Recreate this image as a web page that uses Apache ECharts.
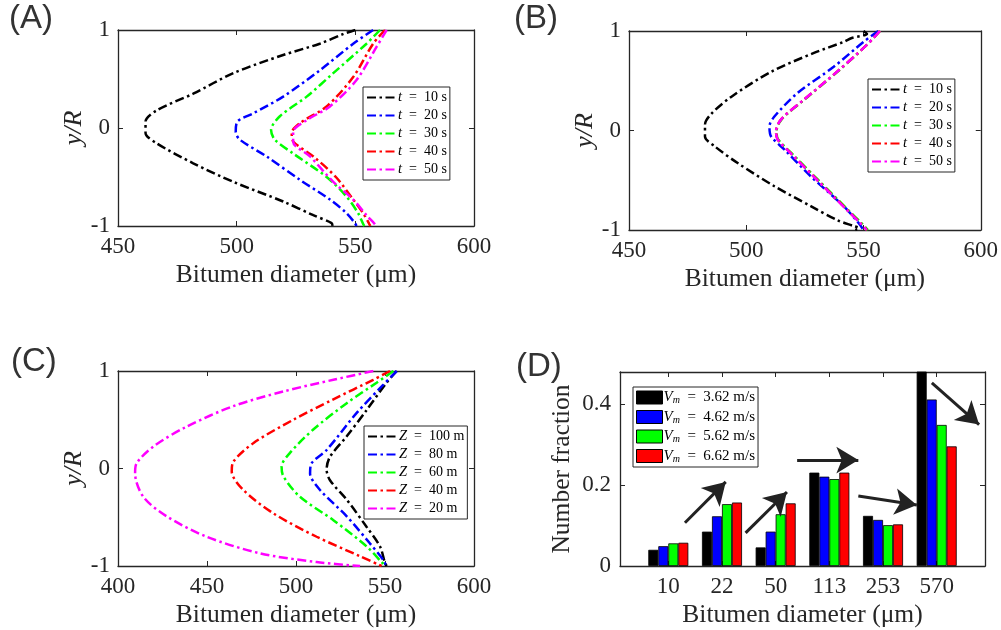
<!DOCTYPE html>
<html>
<head>
<meta charset="utf-8">
<script src="https://cdn.jsdelivr.net/npm/echarts@6/dist/echarts.min.js"></script>
<style>
html,body{margin:0;padding:0;background:#fff;}
#main{width:1001px;height:630px;}
</style>
</head>
<body>
<div id="main"></div>
<script>
// legend labels
const tNames = ['10', '20', '30', '40', '50'];
const zNames = ['100', '80', '60', '40', '20'];
const vmNames = ['3.62', '4.62', '5.62', '6.62'];
const lineColors = ['#000000', '#0000ff', '#00ff00', '#ff0000', '#ff00ff'];

// (A) diameter (um) vs y/R, t = 10..50 s
const aT10 = [[550,1],[545,0.96],[535,0.86],[519.6,0.745],[498.6,0.56],[481.7,0.35],[466.3,0.18],[461.6,0.065],[461.6,-0.05],[466.3,-0.156],[481.7,-0.36],[498.6,-0.55],[519.6,-0.75],[532.3,-0.89],[540,-0.97],[540.4,-1]];
const aT20 = [[557.5,1],[549.1,0.86],[535.1,0.59],[519.6,0.32],[507,0.15],[500.3,0.065],[499.6,-0.04],[501.4,-0.12],[512.6,-0.29],[526.7,-0.53],[539.3,-0.73],[546.3,-0.87],[549.8,-0.97],[550.5,-1]];
const aT30 = [[560.4,1],[554.7,0.86],[540.7,0.56],[529.5,0.32],[518.2,0.12],[514.5,-0.02],[516.1,-0.12],[523.8,-0.26],[537.9,-0.5],[546.3,-0.7],[551.2,-0.87],[553.3,-0.98],[553.8,-1]];
const aT40 = [[562.5,1],[557.5,0.86],[549.1,0.52],[537.9,0.22],[526.7,0.05],[523.2,-0.05],[523.9,-0.14],[532.3,-0.29],[541.8,-0.5],[549.1,-0.73],[553.3,-0.87],[555.9,-0.98],[556.3,-1]];
const aT50 = [[563.2,1],[559,0.83],[550.5,0.49],[539.3,0.22],[529.5,0.08],[523.8,-0.04],[523.8,-0.14],[530.9,-0.29],[540.7,-0.55],[549.1,-0.73],[554.7,-0.89],[558.2,-0.98],[558.8,-1]];

// (B) diameter (um) vs y/R, t = 10..50 s
const bT10 = [[550,1],[551.5,0.97],[545,0.93],[541.5,0.89],[528.9,0.78],[510.6,0.59],[493.7,0.34],[485.2,0.17],[482.4,0.06],[482.4,-0.06],[486.6,-0.16],[496.5,-0.33],[512,-0.56],[527.5,-0.76],[538.7,-0.9],[545.8,-0.96],[548,-0.98],[546.5,-1]];
const bT20 = [[556.3,1],[550,0.89],[537.3,0.64],[521.8,0.375],[512,0.14],[509.9,0.04],[510.6,-0.06],[516.2,-0.19],[527.5,-0.46],[541.5,-0.76],[547.9,-0.93],[550,-1]];
const bT30 = [[557,1],[551.4,0.86],[538.9,0.59],[524.8,0.31],[515,0.11],[512.9,-0.01],[513.6,-0.09],[519.4,-0.23],[530.8,-0.5],[543.5,-0.8],[549.1,-0.93],[551.9,-1]];
const bT40 = [[557,1],[551.4,0.86],[538.7,0.59],[524.6,0.31],[514.8,0.11],[512.7,-0.01],[513.4,-0.09],[519.1,-0.23],[530.4,-0.5],[543.1,-0.8],[548.7,-0.93],[551.5,-1]];
const bT50 = [[557,1],[551.4,0.86],[538.7,0.59],[524.6,0.31],[514.8,0.11],[512.7,-0.01],[513.4,-0.09],[519,-0.23],[530.3,-0.5],[543,-0.8],[548.6,-0.93],[551.4,-1]];

// (C) diameter (um) vs y/R, Z = 100..20 m
const cZ100 = [[556.6,1],[550.9,0.88],[539.7,0.6],[528.5,0.33],[519.1,0.12],[517.2,-0.01],[519.1,-0.12],[528.5,-0.32],[539.7,-0.6],[547.2,-0.8],[550,-0.97],[551,-1]];
const cZ80 = [[556.6,1],[549.1,0.86],[534.1,0.57],[517.2,0.19],[508.8,0.055],[507.9,-0.05],[513.5,-0.22],[528.5,-0.49],[541.6,-0.77],[549.1,-0.94],[550.6,-1]];
const cZ60 = [[554.7,1],[545.3,0.88],[528.5,0.67],[509.7,0.4],[496.6,0.16],[491.9,0.02],[492.9,-0.08],[502.2,-0.29],[521,-0.53],[539.7,-0.8],[548.1,-0.96],[550,-1]];
const cZ40 = [[552.8,1],[543.4,0.91],[521,0.71],[498.5,0.5],[476,0.26],[464.8,0.07],[463.9,-0.03],[470.4,-0.22],[487.3,-0.46],[511.6,-0.7],[536,-0.9],[548.1,-1]];
const cZ20 = [[543.4,1],[521,0.91],[492.9,0.79],[464.8,0.64],[438.6,0.43],[420.2,0.23],[410.5,0.055],[409.6,-0.05],[414.2,-0.29],[427.3,-0.49],[449.8,-0.7],[479.8,-0.87],[511.6,-0.96],[536,-1]];

// (D) number fraction per diameter class
const sizeClasses = ['10', '22', '50', '113', '253', '570'];
const vm362 = [0.040, 0.085, 0.046, 0.231, 0.124, 0.50];
const vm462 = [0.049, 0.123, 0.085, 0.221, 0.114, 0.412];
const vm562 = [0.056, 0.153, 0.128, 0.215, 0.101, 0.349];
const vm662 = [0.0575, 0.157, 0.155, 0.231, 0.103, 0.296];
const barColors = ['#000000', '#0000ff', '#00ff00', '#ff0000'];
// trend arrows (start, end); x in class units (1 = first class), y = fraction
const arrows = [
    [[1.31, 0.107], [2.07, 0.208]],
    [[2.44, 0.082], [3.21, 0.183]],
    [[3.40, 0.262], [4.54, 0.262]],
    [[4.54, 0.173], [5.63, 0.151]],
    [[5.91, 0.453], [6.79, 0.350]]
];

const serif = 'Liberation Serif';
const ink = '#262626';
const dashDot = [9, 3.5, 2.5, 3.5];
const eq = '\u2002=\u2002';

let myChart = echarts.init(document.getElementById('main'));

// panel D box spans classes 0.1 .. 6.9
const dLeft = 620, dWidth = 365;
const dUnit = dWidth / 6.8;

let grids = [
    {left: 118, top: 30, width: 356, height: 196},
    {left: 629, top: 31, width: 355, height: 199},
    {left: 118, top: 371, width: 356, height: 195},
    {left: dLeft, top: 372, width: dWidth, height: 194},
    // bars: one band per class, aligned with the box above
    {left: dLeft + 0.4 * dUnit, top: 372, width: 6 * dUnit, height: 194}
];

let xAxes = [], yAxes = [];
let nameStyle = {fontFamily: serif, fontSize: 25.5, color: ink, fontStyle: 'normal'};
let tickStyle = {inside: true, length: 5, lineStyle: {color: ink}};
let lineAx = {onZero: false, lineStyle: {color: ink, width: 1.3}};
let labelStyle = {fontFamily: serif, fontSize: 23, color: ink, margin: 9};

function addBox(g, xo, yo) {
    // bottom + top x axes, left + right y axes (MATLAB style box)
    xAxes.push(Object.assign({
        type: 'value', gridIndex: g, position: 'bottom',
        name: 'Bitumen diameter (μm)', nameLocation: 'middle', nameGap: 36,
        nameTextStyle: nameStyle,
        axisLine: lineAx, axisTick: tickStyle, axisLabel: labelStyle,
        splitLine: {show: false}
    }, xo));
    xAxes.push(Object.assign({
        type: 'value', gridIndex: g, position: 'top',
        axisLine: lineAx, axisTick: tickStyle, splitLine: {show: false}
    }, xo, {name: '', axisLabel: {show: false}}));
    yAxes.push(Object.assign({
        type: 'value', gridIndex: g, position: 'left',
        name: 'y/R', nameLocation: 'middle', nameGap: 30,
        nameTextStyle: {fontFamily: serif, fontSize: 26, color: ink, fontStyle: 'italic'},
        axisLine: lineAx, axisTick: tickStyle,
        axisLabel: {fontFamily: serif, fontSize: 23, color: ink, margin: 8},
        splitLine: {show: false}
    }, yo));
    yAxes.push(Object.assign({
        type: 'value', gridIndex: g, position: 'right',
        axisLine: lineAx, axisTick: tickStyle, splitLine: {show: false}
    }, yo, {name: '', axisLabel: {show: false}}));
}

let yRange = {min: -1, max: 1, interval: 1};
addBox(0, {min: 450, max: 600, interval: 50}, yRange);
addBox(1, {min: 450, max: 600, interval: 50}, yRange);
addBox(2, {min: 400, max: 600, interval: 50}, yRange);
addBox(3, {
    min: 0.1, max: 6.9, axisTick: {show: false}, axisLabel: {show: false}
}, {
    min: 0, max: 0.48, interval: 0.2, name: 'Number fraction', nameGap: 45,
    nameTextStyle: {fontFamily: serif, fontSize: 25.5, color: ink, fontStyle: 'normal'},
    axisLabel: {fontFamily: serif, fontSize: 23, color: ink, margin: 9, showMaxLabel: false}
});
// class axes for the bars (labels bottom, ticks top)
xAxes.push({
    type: 'category', gridIndex: 4, position: 'bottom', data: sizeClasses,
    axisLine: {show: false},
    axisTick: {show: true, inside: true, alignWithLabel: true, length: 5, lineStyle: {color: ink}},
    axisLabel: labelStyle
});
xAxes.push({
    type: 'category', gridIndex: 4, position: 'top', data: sizeClasses,
    axisLine: {show: false},
    axisTick: {show: true, inside: true, alignWithLabel: true, length: 5, lineStyle: {color: ink}},
    axisLabel: {show: false}
});
yAxes.push({type: 'value', gridIndex: 4, min: 0, max: 0.48, show: false});

let series = [];
let labelMap = {};

function addLines(g, sets, prefix, labels, varName, unit) {
    sets.forEach(function (d, i) {
        let name = prefix + labels[i];
        labelMap[name] = '{i|' + varName + '}' + eq + labels[i] + ' ' + unit;
        series.push({
            type: 'line', name: name, xAxisIndex: 2 * g, yAxisIndex: 2 * g,
            data: d, symbol: 'none', smooth: 0.3, clip: true,
            lineStyle: {color: lineColors[i], width: 2.5, type: dashDot},
            itemStyle: {color: lineColors[i]}
        });
    });
}
addLines(0, [aT10, aT20, aT30, aT40, aT50], 'A', tNames, 't', 's');
addLines(1, [bT10, bT20, bT30, bT40, bT50], 'B', tNames, 't', 's');
addLines(2, [cZ100, cZ80, cZ60, cZ40, cZ20], 'C', zNames, 'Z', 'm');

[vm362, vm462, vm562, vm662].forEach(function (vals, i) {
    let name = 'D' + vmNames[i];
    labelMap[name] = '{v|V}{s|m}' + eq + vmNames[i] + ' m/s';
    series.push({
        type: 'bar', name: name, xAxisIndex: 8, yAxisIndex: 8,
        data: vals, barWidth: 10, barGap: '0%', clip: true,
        itemStyle: {color: barColors[i], borderColor: '#000', borderWidth: 0.8}
    });
});

// arrows drawn in the box coordinates of panel D
series.push({
    type: 'line', name: 'arrows', xAxisIndex: 6, yAxisIndex: 6, data: [],
    symbol: 'none', silent: true,
    markLine: {
        silent: true, symbol: ['none', 'arrow'], symbolSize: [20, 22],
        label: {show: false},
        lineStyle: {color: '#222', width: 3, type: 'solid'},
        emphasis: {disabled: true},
        data: arrows.map(function (a) {
            return [{coord: a[0]}, {coord: a[1]}];
        })
    }
});

function legendFor(names, left, top, extra) {
    return Object.assign({
        data: names, left: left, top: top, orient: 'vertical',
        itemWidth: 30, itemHeight: 12, itemGap: 3,
        padding: [3, 3, 3, 3], borderColor: ink, borderWidth: 1, backgroundColor: '#fff',
        selectedMode: false,
        itemStyle: {opacity: 0},
        textStyle: {
            fontFamily: serif, fontSize: 14, color: '#000', padding: [0, 0, 0, -4],
            rich: {
                i: {fontFamily: serif, fontSize: 14.5, fontStyle: 'italic', color: '#000'}
            }
        },
        formatter: function (n) { return labelMap[n]; }
    }, extra || {});
}

let panelFont = {fontFamily: 'Liberation Sans', fontSize: 33, fontWeight: 'normal', color: '#333'};

let option = {
    backgroundColor: '#fff',
    animation: false,
    title: [
        {text: '(A)', left: 9, top: 2, padding: 0, textStyle: panelFont},
        {text: '(B)', left: 514, top: 2, padding: 0, textStyle: panelFont},
        {text: '(C)', left: 11, top: 345, padding: 0, textStyle: panelFont},
        {text: '(D)', left: 516, top: 350, padding: 0, textStyle: panelFont}
    ],
    grid: grids,
    xAxis: xAxes,
    yAxis: yAxes,
    legend: [
        legendFor(tNames.map(function (t) { return 'A' + t; }), 363, 87),
        legendFor(tNames.map(function (t) { return 'B' + t; }), 868, 79),
        legendFor(zNames.map(function (z) { return 'C' + z; }), 364, 426),
        legendFor(vmNames.map(function (v) { return 'D' + v; }), 633, 387, {
            itemWidth: 26, itemHeight: 13, itemGap: 4, icon: 'rect',
            itemStyle: {borderColor: '#000', borderWidth: 1},
            textStyle: {
                fontFamily: serif, fontSize: 15, color: '#000', padding: [0, 0, 0, -4],
                rich: {
                    v: {fontFamily: serif, fontSize: 15, fontStyle: 'italic', color: '#000'},
                    s: {fontFamily: serif, fontSize: 10, fontStyle: 'italic', color: '#000', padding: [6, 0, 0, 0]}
                }
            }
        })
    ],
    series: series
};

myChart.setOption(option);
</script>
</body>
</html>
